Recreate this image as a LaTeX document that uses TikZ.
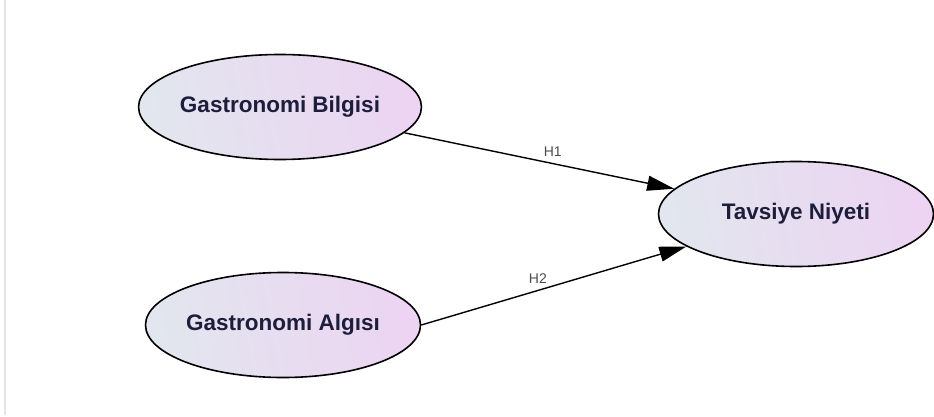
\documentclass[tikz,border=0pt]{standalone}
\usepackage{fontspec}
\setmainfont{Liberation Sans}
\usetikzlibrary{arrows.meta,shapes.geometric}
\definecolor{fillleft}{HTML}{E2E6EE}
\definecolor{fillright}{HTML}{ECD4F2}
\definecolor{textnavy}{HTML}{1E1E3C}
\definecolor{framegray}{HTML}{E4E4E4}

\begin{document}
\begin{tikzpicture}[x=1pt,y=-1pt]
						\tikzstyle{construct}=[ellipse,draw=black,line width=1.6pt,minimum width=275pt,minimum height=105pt,inner sep=0pt,left color=fillleft,right color=fillright,shading angle=100,text=textnavy,font=\fontsize{22.5}{27}\selectfont\bfseries]
						\tikzstyle{hpath}=[line width=1.4pt,-{Triangle[length=27pt,width=15pt]}]
						\tikzstyle{hyp}=[text=black!70,font=\fontsize{14}{16}\selectfont,above=3pt]
						\useasboundingbox (0,0) rectangle (934,417);
						\draw[framegray,line width=1.5pt] (5,0) -- (5,415);
						\node[construct](gb) at (280,107) {Gastronomi Bilgisi};
						\node[construct](ga) at (283,325) {Gastronomi Algısı};
						\node[construct](tn) at (796,214) {Tavsiye Niyeti};
						\draw[hpath] (gb) -- (tn) node [pos=0.55, hyp] {H1};
						\draw[hpath] (ga.east) -- (tn) node [pos=0.44, hyp] {H2};
					\end{tikzpicture}
\end{document}
